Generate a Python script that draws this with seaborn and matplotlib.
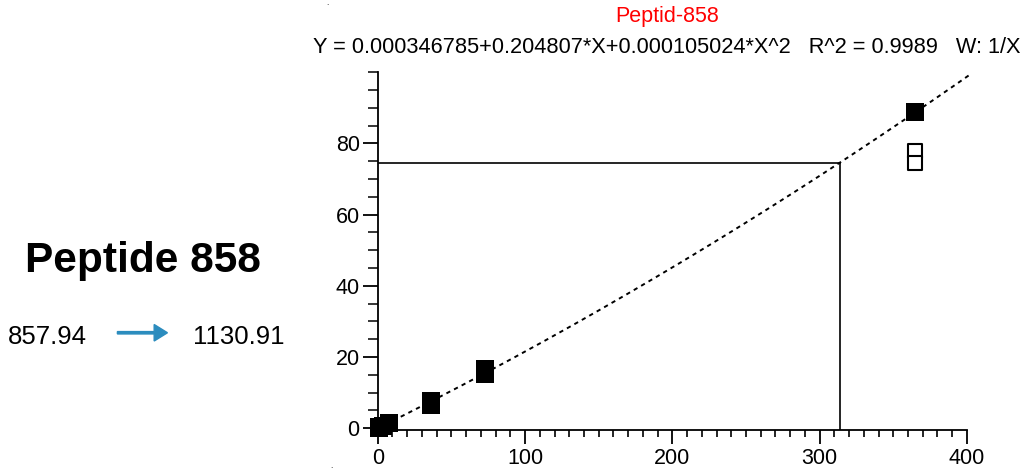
import numpy as np
import pandas as pd
import matplotlib
matplotlib.use("Agg")
import matplotlib.pyplot as plt
from matplotlib.ticker import MultipleLocator, FixedLocator
import seaborn as sns

# ---------------- data ----------------
std_conc = [0.729, 0.729, 3.645, 7.29, 36.45, 36.45, 72.9, 72.9, 364.5]
std_resp = [0.10, 0.35, 0.75, 1.50, 6.6, 7.7, 15.3, 16.7, 88.8]
excl_conc = [364.5, 364.5]
excl_resp = [77.9, 74.6]
# fit: Y = a + b*X + c*X^2
coef_a = 0.000346785
coef_b = 0.204807
coef_c = 0.000105024
fit_range = [0.0, 402.0]
sample_resp = 74.6

title_txt = "Peptid-858"
eq_txt = "Y = 0.000346785+0.204807*X+0.000105024*X^2   R^2 = 0.9989   W: 1/X"
name_txt = "Peptide 858"
prec_txt = "857.94"
prod_txt = "1130.91"

# ---------------- style ----------------
sns.set_style("ticks", rc={"axes.edgecolor": "black", "xtick.color": "black",
                           "ytick.color": "black", "text.color": "black",
                           "axes.labelcolor": "black"})
plt.rcParams["font.family"] = ["Liberation Sans", "DejaVu Sans"]

fig = plt.figure(figsize=(10.21, 4.72), dpi=100)
ax = fig.add_axes([0.370, 0.089, 0.577, 0.758])

std_df = pd.DataFrame({"x": std_conc, "y": std_resp})
excl_df = pd.DataFrame({"x": excl_conc, "y": excl_resp})
xf = np.linspace(fit_range[0], fit_range[1], 300)
fit_df = pd.DataFrame({"x": xf, "y": coef_a + coef_b * xf + coef_c * xf ** 2})

sns.lineplot(data=fit_df, x="x", y="y", ax=ax, color="black", lw=1.4,
             linestyle=(0, (2.2, 2.2)), clip_on=False, zorder=2)

# quantitation of the unknown sample
disc = coef_b ** 2 - 4 * coef_c * (coef_a - sample_resp)
sample_conc = (-coef_b + np.sqrt(disc)) / (2 * coef_c)
ylo = -0.5
ax.plot([0, sample_conc], [sample_resp, sample_resp], color="black", lw=1.2, zorder=2)
ax.plot([sample_conc, sample_conc], [sample_resp, ylo], color="black", lw=1.2, zorder=2)

sns.scatterplot(data=std_df, x="x", y="y", ax=ax, marker="s", s=150,
                color="black", edgecolor="black", linewidth=0, clip_on=False, zorder=3)
sns.scatterplot(data=excl_df, x="x", y="y", ax=ax, marker="s", s=105,
                facecolor="white", edgecolor="black", linewidth=1.5, clip_on=False, zorder=3)

ax.set_xlim(0, 400)
ax.set_ylim(ylo, 100)
ax.set_xlabel("")
ax.set_ylabel("")
for s in ["top", "right"]:
    ax.spines[s].set_visible(False)
for s in ["left", "bottom"]:
    ax.spines[s].set_linewidth(1.3)
    ax.spines[s].set_color("black")

ax.xaxis.set_major_locator(MultipleLocator(100))
ax.xaxis.set_minor_locator(MultipleLocator(10))
ax.yaxis.set_major_locator(FixedLocator([0, 20, 40, 60, 80]))
ax.yaxis.set_minor_locator(MultipleLocator(5))
ax.tick_params(axis="x", which="major", length=10, width=1.3, direction="out",
               labelsize=15.5, pad=3, colors="black")
ax.tick_params(axis="x", which="minor", length=4.8, width=1.2, direction="out",
               colors="black", bottom=True)
ax.tick_params(axis="y", which="major", length=11, width=1.3, direction="out",
               labelsize=15.5, pad=2, colors="black")
ax.tick_params(axis="y", which="minor", length=7, width=1.1, direction="out",
               colors="black")

# titles
fig.text(0.653, 0.965, title_txt, color="red", fontsize=15.5, ha="center", va="center")
fig.text(0.6535, 0.900, eq_txt, color="black", fontsize=15.7, ha="center", va="center")

# left annotation
fig.text(0.140, 0.448, name_txt, fontsize=30.5, fontweight="bold", ha="center",
         va="center", color="black")
fig.text(0.008, 0.287, prec_txt, fontsize=18.5, ha="left", va="center", color="black")
fig.text(0.189, 0.287, prod_txt, fontsize=18.5, ha="left", va="center", color="black")
fig.patches.append(matplotlib.patches.FancyArrow(
    0.115, 0.295, 0.036, 0.0, width=0.005, head_width=0.035, head_length=0.013,
    length_includes_head=False, color="#2b8cbe", transform=fig.transFigure, figure=fig))

fig.text(0.321, 0.992, ".", fontsize=6, ha="center", va="center", color="black")
fig.text(0.325, 0.012, ".", fontsize=6, ha="center", va="center", color="black")

fig.savefig("out.png", dpi=100)
